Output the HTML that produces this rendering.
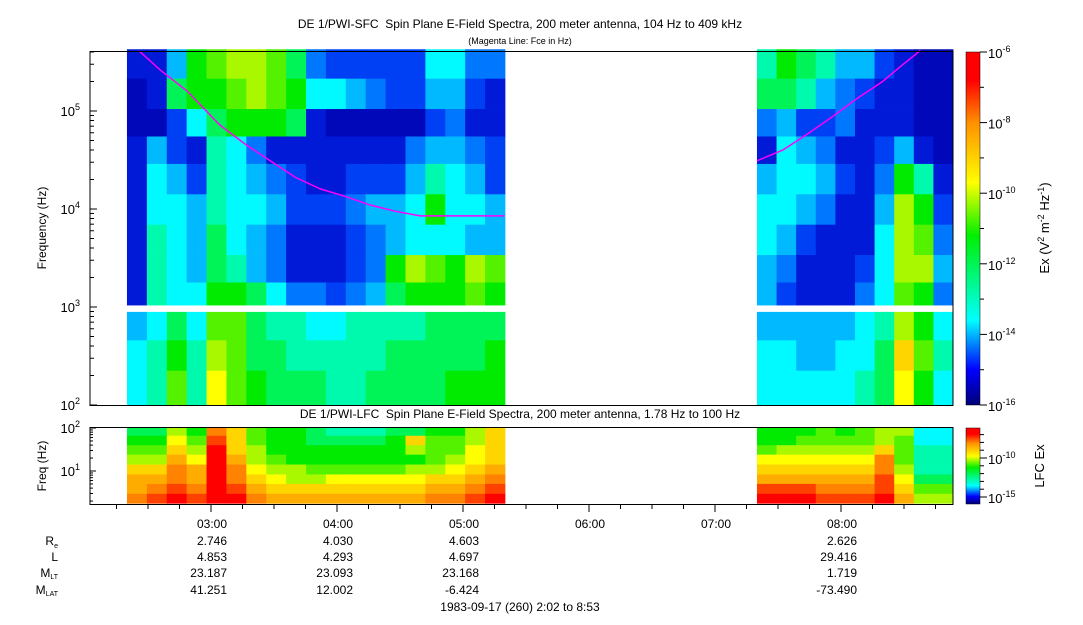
<!DOCTYPE html>
<html><head><meta charset="utf-8">
<style>
body{margin:0;background:#fff;width:1083px;height:620px;overflow:hidden;font-family:"Liberation Sans",sans-serif;}
svg text{font-family:"Liberation Sans",sans-serif;fill:#000;white-space:pre;}
</style></head>
<body>
<svg id="chart" width="1083" height="620" viewBox="0 0 1083 620" xmlns="http://www.w3.org/2000/svg">
<defs>
<linearGradient id="jet" x1="0" y1="1" x2="0" y2="0">
<stop offset="0" stop-color="#000078"/><stop offset="0.1" stop-color="#0000ff"/><stop offset="0.24" stop-color="#00ffff"/><stop offset="0.48" stop-color="#00f000"/><stop offset="0.63" stop-color="#ffff00"/><stop offset="0.8" stop-color="#ff9000"/><stop offset="0.92" stop-color="#ff0000"/><stop offset="1" stop-color="#ff0000"/>
</linearGradient>
</defs>
<text x="520" y="28" font-size="12" text-anchor="middle">DE 1/PWI-SFC  Spin Plane E-Field Spectra, 200 meter antenna, 104 Hz to 409 kHz</text>
<text x="520" y="44" font-size="9" text-anchor="middle">(Magenta Line: Fce in Hz)</text>
<text x="520" y="418" font-size="12" text-anchor="middle">DE 1/PWI-LFC  Spin Plane E-Field Spectra, 200 meter antenna, 1.78 Hz to 100 Hz</text>
<g id="sfc"></g>
<g id="lfc"></g>
<g id="axes"></g>
<rect x="90" y="51.5" width="863" height="354" fill="none" stroke="#000"/>
<rect x="90" y="427.5" width="863" height="77" fill="none" stroke="#000"/>
<rect x="966" y="52" width="14" height="353" fill="url(#jet)" stroke="#000" stroke-width="0.5"/>
<rect x="966" y="428" width="14" height="76" fill="url(#jet)" stroke="#000" stroke-width="0.5"/>
<text transform="translate(46,228) rotate(-90)" font-size="12" text-anchor="middle">Frequency (Hz)</text>
<text transform="translate(46,466) rotate(-90)" font-size="12" text-anchor="middle">Freq (Hz)</text>
<text transform="translate(1049,228) rotate(-90)" font-size="13" text-anchor="middle">Ex (V<tspan font-size="9" dy="-5">2</tspan><tspan dy="5"> m</tspan><tspan font-size="9" dy="-5">-2</tspan><tspan dy="5"> Hz</tspan><tspan font-size="9" dy="-5">-1</tspan><tspan dy="5">)</tspan></text>
<text transform="translate(1044,466) rotate(-90)" font-size="13" text-anchor="middle">LFC Ex</text>
<g font-size="12" text-anchor="end">
<text x="58" y="545">R<tspan font-size="7" dy="3">e</tspan></text>
<text x="58" y="561">L</text>
<text x="58" y="577">M<tspan font-size="7" dy="2">LT</tspan></text>
<text x="58" y="594">M<tspan font-size="7" dy="2">LAT</tspan></text>
</g>
<text x="520" y="611" font-size="12" text-anchor="middle">1983-09-17 (260) 2:02 to 8:53</text>
</svg>
<script>
// ---- data ----
const leftSeg=[2.333,5.333], rightSeg=[7.333,8.889];
const sfcRowEdges=[5.63,5.33,5.02,4.74,4.46,4.15,3.84,3.53,3.25,3.02,null,2.95,2.66,2.35,2.0];
const sfcLeft=[
[1.5,1.5,3,5,5.5,6,6,5.5,4.5,2.5,2,2,2,2,2,3.5,3.5,2.5,2.5],
[1,1.5,4.5,5,5,5.5,6,5.5,5,3.5,3.5,3,2.5,2,2,3,3,2,1.5],
[1,1,2,3.5,4.5,5,5,5,4.5,1.5,1,1,1,1,1,2,2.5,1.5,1.5],
[1.5,3,2,1.5,4,3.5,2.5,1.5,1.5,1.5,1.5,1.5,1.5,1.5,2.5,3,3,2.5,2],
[1.5,3.5,3,2,4,3.5,3,2.5,2,1.5,1.5,2,2,2,3,4,3.5,3,2],
[1.5,3.5,3.5,3,4,3.5,3.5,3,2,2,2,2.5,3,3,3.5,5,3.5,3.5,3],
[1.5,4,3.5,3,4.5,3.5,3,2.5,1.5,1.5,1.5,2,2.5,3,3.5,3.5,3.5,3,3],
[1.5,4,3.5,3,4.5,4,3,2.5,1.5,1.5,1.5,2,2.5,5,6,5.5,5,6,5.5],
[1.5,4,3.5,3.5,5,5,4.5,3.5,2.5,2.5,2,2.5,3,4.5,5,5,5,5.5,5],
[3,3.5,4.5,3.5,5.5,5.5,4.5,4,4,3.5,3.5,4,4,4,4,4.5,4.5,4.5,4.5],
[3.5,4,5,4,6,5.5,4.5,4.5,4,4,4,4,4,4.5,4.5,4.5,4.5,4.5,5],
[3.5,4,5.5,4,6.5,5.5,5,4.5,4.5,4.5,4,4,4.5,4.5,4.5,4.5,5,5,5]];
const sfcRight=[
[4,5,4.5,4,3,3,2,1.5,1,1],
[4.5,4.5,4,3,2.5,2,1.5,1.5,1,1],
[2.5,3,2,2,2.5,1.5,1.5,1.5,1,1],
[1.5,3.5,3,2.5,1.5,1.5,2,3,1.5,1],
[3,3.5,3.5,3,2,1.5,2.5,5,4,1.5],
[3.5,3.5,3,2.5,1.5,1.5,3,6,5,2],
[3.5,3,2,1.5,1.5,1.5,3.5,6,5.5,2.5],
[3,2.5,1.5,1.5,1.5,2,3.5,6,6,3],
[3,2,1.5,1.5,1.5,2.5,3.5,5.5,5,2.5],
[3,3,3,3,3,3.5,4,6,5,3.5],
[3.5,3.5,3,3,3.5,3.5,4.5,7,5.5,4],
[3.5,3.5,3.5,3.5,3.5,4,4.5,6.5,5,3.5]];
const lfcRowEdges=[2.0,1.82,1.6,1.38,1.15,0.92,0.7,0.47,0.25];
const lfcLeft=[
[4.5,4.5,6,5,8,7,5.5,5,5,4.5,4,4,4,4.5,4.5,5,5,6,7],
[5,5,6.5,5.5,8.5,7,5.5,5,5,4.5,4.5,4.5,4.5,5,7,5.5,5.5,6,7],
[5.5,5.5,7,6,9,7,6,5,5,5,5,5,5,5,6,5.5,5.5,6.5,7],
[6,6,7.5,6.5,9,7.5,6,5.5,5,5,5,5,5,5,5,5.5,6,6.5,7],
[7,7,8,7.5,9,8,6.5,6,6,5.5,5.5,5.5,5.5,5.5,6,6,6.5,7,7.5],
[7.5,7.5,8,7.5,9,8,7,6.5,6,6,6.5,6.5,6.5,6.5,6.5,7,7,7.5,8],
[7.5,8,8.5,8,9,8.5,7.5,7,7,7,7,7,7,7,7,7.5,7.5,8,8.5],
[8,8.5,9,8.5,9,9,8,7.5,7.5,7.5,7.5,7.5,7.5,7.5,7.5,8,8,8.5,9]];
const lfcRight=[
[5,5,5,5.5,5,5.5,6,6,3.5,3.5],
[5,5,5.5,5.5,5.5,5.5,6,5.5,3.5,3.5],
[5.5,6,6,6,6,6,7,5.5,4,4],
[6.5,6.5,6.5,6.5,6.5,6.5,8,5.5,4,4],
[7,7,7,7,7,7,8,6,4,4],
[7.5,7.5,7.5,7.5,7.5,7.5,8.5,6.5,4.5,4.5],
[8.5,8.5,8.5,8,8,8,8.5,7,5.5,5.5],
[9,9,9,8.5,8.5,8.5,9,7.5,6,6]];
const fceLeftT=[2.429,2.6,2.81,3.07,3.27,3.47,3.67,3.87,4.06,4.26,4.46,4.66,5.33];
const fceLeftF=[410000,260000,160000,72000,46000,31000,21000,16000,13500,11000,9500,8500,8500];
const fceRightT=[7.333,7.54,7.74,7.94,8.13,8.33,8.48,8.63];
const fceRightF=[31000,40000,59000,89000,135000,200000,290000,415000];
const hourTicks=[3,4,5,6,7,8];
const hourLabels=["03:00","04:00","05:00","06:00","07:00","08:00"];
const ephT=[3,4,5,8];
const ephRe=["2.746","4.030","4.603","2.626"];
const ephL=["4.853","4.293","4.697","29.416"];
const ephMLT=["23.187","23.093","23.168","1.719"];
const ephMLAT=["41.251","12.002","-6.424","-73.490"];
const cbExp=[-6,-8,-10,-12,-14,-16];
// ---- scales ----
const NS="http://www.w3.org/2000/svg";
const xT=t=>211+(t-3)*126;
const yF=l=>307-(l-3)*98;
const yL=l=>471-(l-1)*43;
const yCb=e=>52+(-6-e)*35.3;
const cStops=[[0,0,0,120],[1.3,0,10,205],[2.2,0,80,255],[3.5,0,250,255],[4.2,0,250,140],[5,0,235,0],[6.5,255,255,0],[8,255,130,0],[9,255,0,0],[10,255,0,0]];
function jet(v){
  for(let i=0;i<cStops.length-1;i++){const a=cStops[i],b=cStops[i+1];
    if(v<=b[0]||i==cStops.length-2){const f=Math.max(0,Math.min(1,(v-a[0])/(b[0]-a[0])));
      return `rgb(${Math.round(a[1]+(b[1]-a[1])*f)},${Math.round(a[2]+(b[2]-a[2])*f)},${Math.round(a[3]+(b[3]-a[3])*f)})`;}}
}
function mk(tag,attrs,parent){const e=document.createElementNS(NS,tag);for(const k in attrs)e.setAttribute(k,attrs[k]);parent.appendChild(e);return e;}
function heat(g,mat,seg,edges,yfun){
  const n=mat[0].length,dt=(seg[1]-seg[0])/n;
  let r=0;
  for(let i=0;i<edges.length-1;i++){
    if(edges[i]===null||edges[i+1]===null)continue;
    const y0=yfun(edges[i]),y1=yfun(edges[i+1]);
    for(let j=0;j<n;j++){
      const x0=xT(seg[0]+j*dt),x1=xT(seg[0]+(j+1)*dt);
      const e=mk('rect',{x:x0,y:y0,width:x1-x0+0.4,height:y1-y0+0.4,fill:jet(mat[r][j])},g);
      
      
    }
    r++;
  }
}
const sfc=document.getElementById('sfc'),lfc=document.getElementById('lfc'),ax=document.getElementById('axes');
heat(sfc,sfcLeft,leftSeg,sfcRowEdges,yF);
heat(sfc,sfcRight,rightSeg,sfcRowEdges,yF);
heat(lfc,lfcLeft,leftSeg,lfcRowEdges,yL);
heat(lfc,lfcRight,rightSeg,lfcRowEdges,yL);
function fce(T,F,name){
  const pts=T.map((t,i)=>xT(t).toFixed(1)+','+yF(Math.log10(F[i])).toFixed(1)).join(' ');
  const p=mk('polyline',{points:pts,fill:'none',stroke:'#ff00ff','stroke-width':1.5},sfc);
  
  
}
fce(fceLeftT,fceLeftF,'fce-line-left');
fce(fceRightT,fceRightF,'fce-line-right');
for(let d=2;d<=5;d++){
  for(let m=1;m<=9;m++){
    const l=d+Math.log10(m);if(l>5.62)break;
    const y=yF(l);
    mk('line',{x1:90,x2:90+(m==1?7:4),y1:y,y2:y,stroke:'#000'},ax);
  }
  const t=mk('text',{x:80,y:yF(d)+5,'font-size':13,'text-anchor':'end'},ax);
  
  
  t.innerHTML='10<tspan font-size="9" dy="-6">'+d+'</tspan>';
}
for(let d=0;d<=2;d++){
  for(let m=1;m<=9;m++){
    const l=d+Math.log10(m);if(l<0.25||l>2)continue;
    mk('line',{x1:90,x2:90+(m==1?6:3),y1:yL(l),y2:yL(l),stroke:'#000'},ax);
  }
}
[1,2].forEach(d=>{const t=mk('text',{x:80,y:yL(d)+5,'font-size':13,'text-anchor':'end'},ax);
  
  
  t.innerHTML='10<tspan font-size="9" dy="-6">'+d+'</tspan>';});
for(let t=2.25;t<=8.8;t+=0.25){
  const maj=Math.abs(t-Math.round(t))<0.01;
  mk('line',{x1:xT(t),x2:xT(t),y1:505,y2:505+(maj?7:4),stroke:'#000'},ax);
}
hourTicks.forEach((h,i)=>{const t=mk('text',{x:xT(h)+16,y:528,'font-size':12,'text-anchor':'end'},ax);
  
  
  t.textContent=hourLabels[i];});
[[ephRe,545],[ephL,561],[ephMLT,577],[ephMLAT,594]].forEach(([arr,y])=>{
  ephT.forEach((h,i)=>{const t=mk('text',{x:xT(h)+16,y:y,'font-size':12,'text-anchor':'end'},ax);
    
    
    t.textContent=arr[i];});
});
for(let e=-16;e<=-6;e++){
  const y=yCb(e),maj=e%2==0;
  mk('line',{x1:980,x2:980+(maj?7:4),y1:y,y2:y,stroke:'#000'},ax);
}
cbExp.forEach(e=>{const t=mk('text',{x:988,y:yCb(e)+6,'font-size':13},ax);
  
  
  t.innerHTML='10<tspan font-size="9" dy="-6">'+e+'</tspan>';});
const yCl=e=>458+(-10-e)*7.8;
for(let e=-15;e<=-6.5;e++){mk('line',{x1:980,x2:980+((e==-10||e==-15)?7:4),y1:yCl(e),y2:yCl(e),stroke:'#000'},ax);}
[-10,-15].forEach(e=>{const t=mk('text',{x:988,y:yCl(e)+6,'font-size':13},ax);
  
  
  t.innerHTML='10<tspan font-size="9" dy="-6">'+e+'</tspan>';});
</script>
</body></html>
